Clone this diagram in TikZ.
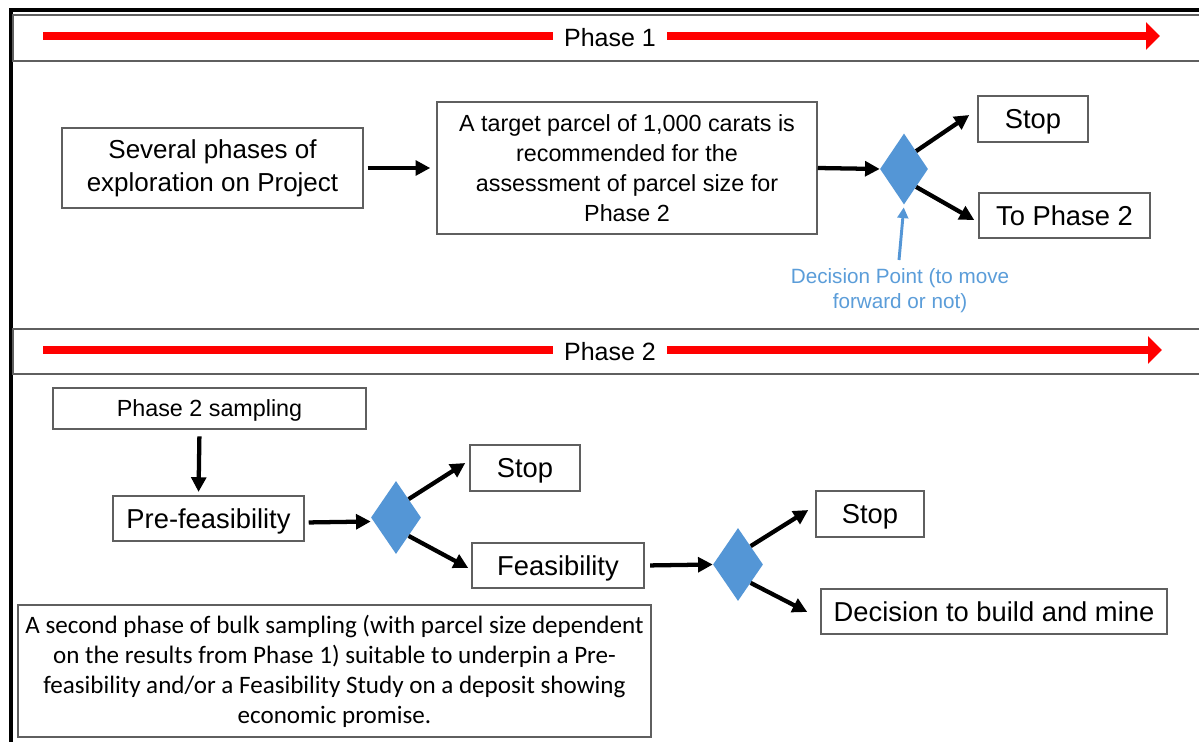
\documentclass[tikz,border=0pt]{standalone}
\usepackage{fontspec}
\setmainfont{Liberation Sans}
\newfontfamily\narrowfont{Carlito}
\usetikzlibrary{shapes.geometric,arrows.meta,calc}
\definecolor{boxgray}{RGB}{95,95,95}
\definecolor{dpblue}{RGB}{84,150,214}
\definecolor{dptext}{RGB}{91,157,217}
\begin{document}
\begin{tikzpicture}[x=0.75pt,y=-0.75pt,
  box/.style={draw=boxgray,line width=1.1pt,align=center,inner sep=0pt,
    font=\fontsize{20.5}{24}\selectfont},
  one/.style={text depth=0pt},
  decision/.style={diamond,fill=dpblue,draw=none,inner sep=0pt},
  arr/.style={-{Triangle[length=11pt,width=11pt]},line width=3.2pt,black},
  bluearr/.style={-{Triangle[length=8pt,width=8pt]},line width=2.2pt,dpblue},
  redarr/.style={-{Triangle[length=10.5pt,width=20pt]},line width=6.5pt,red},
  banner/.style={draw=boxgray,line width=1.1pt},
  phaselabel/.style={fill=white,inner xsep=8.5pt,inner ysep=4pt,text depth=0pt,
    font=\fontsize{18.75}{22}\selectfont}]
\useasboundingbox (0,0) rectangle (1199,742);
\fill[white] (0,0) rectangle (1199,742);

% outer frame
\draw[line width=2.5pt,black] (11,742) -- (11,10) -- (1199,10);

% Phase 1 banner
\draw[banner] (1200,15) -- (13,15) -- (13,61) -- (1200,61);
\coordinate (r1s) at (43,36);
\coordinate (r1e) at (1160,36);
\draw[redarr] (r1s) -- (r1e);
\node[phaselabel] (ph1) at (610,37) {Phase 1};

% Phase 2 banner
\draw[banner] (1200,329) -- (13,329) -- (13,374) -- (1200,374);
\coordinate (r2s) at (43,350);
\coordinate (r2e) at (1162,350);
\draw[redarr] (r2s) -- (r2e);
\node[phaselabel] (ph2) at (610,351) {Phase 2};

% Phase 1 nodes
\node[box,minimum width=225.75pt,minimum height=60pt,
  font=\fontsize{19.5}{24.75}\selectfont] (b1) at (212.5,168)
  {Several phases of\\exploration on Project};
\node[box,minimum width=285pt,minimum height=99pt,
  font=\fontsize{17.5}{22.5}\selectfont] (b2) at (627,168)
  {A target parcel of 1,000 carats is\\recommended for the\\assessment of parcel size for\\Phase 2};
\node[decision,minimum width=36pt,minimum height=53.25pt] (d1) at (904,169) {};
\node[box,one,minimum width=82.5pt,minimum height=34.5pt] (s1) at (1033,119) {Stop};
\node[box,one,minimum width=128.25pt,minimum height=33.75pt] (tp2) at (1064.5,215.5) {To Phase 2};
\node[align=center,text=dptext,inner sep=0pt,
  font=\fontsize{15.5}{18.75}\selectfont] (dp) at (900,291)
  {Decision Point (to move\\forward or not)};
\coordinate (bs) at (899,260);

\draw[arr,shorten <=3pt,shorten >=4.5pt] (b1.east) -- (b2.west);
\draw[arr] (b2.east) -- (d1.west);
\draw[arr] (d1.north east) -- ($(s1.west)+(-8,-4)$);
\draw[arr] (d1.south east) -- ($(tp2.west)+(-4,4.5)$);
\draw[bluearr,shorten >=2pt] (bs) -- (d1.south);

% Phase 2 nodes
\node[box,one,minimum width=234.75pt,minimum height=30.75pt,
  font=\fontsize{17.5}{21}\selectfont] (p2s) at (209.5,408.5) {Phase 2 sampling};
\node[box,one,minimum width=143.25pt,minimum height=33.75pt] (pref) at (208.5,518.5) {Pre-feasibility};
\node[decision,minimum width=37.5pt,minimum height=54.75pt] (d2) at (396,517.5) {};
\node[box,one,minimum width=82.5pt,minimum height=34.5pt] (s2) at (525,468) {Stop};
\node[box,one,minimum width=129pt,minimum height=33.75pt] (feas) at (558,565.5) {Feasibility};
\node[decision,minimum width=37.5pt,minimum height=54.75pt] (d3) at (738,564.5) {};
\node[box,one,minimum width=81pt,minimum height=34.5pt] (s3) at (870,514) {Stop};
\node[box,one,minimum width=259.5pt,minimum height=33.75pt] (build) at (994,611.5) {Decision to build and mine};
\node[box,minimum width=474.75pt,minimum height=99pt,
  font=\narrowfont\fontsize{18.8}{22.5}\selectfont] (para) at (334.5,671)
  {A second phase of bulk sampling (with parcel size dependent\\on the results from Phase 1) suitable to underpin a Pre-\\feasibility and/or a Feasibility Study on a deposit showing\\economic promise.};

\draw[arr,shorten <=5pt,shorten >=2.5pt] ($(p2s.south)+(-10,0)$) -- ($(pref.north)+(-10,0)$);
\draw[arr,shorten <=3pt] ($(pref.east)+(0,4)$) -- ($(d2.west)+(0,4)$);
\draw[arr] (d2.north east) -- ($(s2.west)+(-4,-5)$);
\draw[arr] (d2.south east) -- ($(feas.west)+(-3,2.5)$);
\draw[arr,shorten <=4pt] (feas.east) -- (d3.west);
\draw[arr] (d3.north east) -- ($(s3.west)+(-7,-4)$);
\draw[arr] (d3.south east) -- ($(build.west)+(-13,0.5)$);
\end{tikzpicture}
\end{document}
